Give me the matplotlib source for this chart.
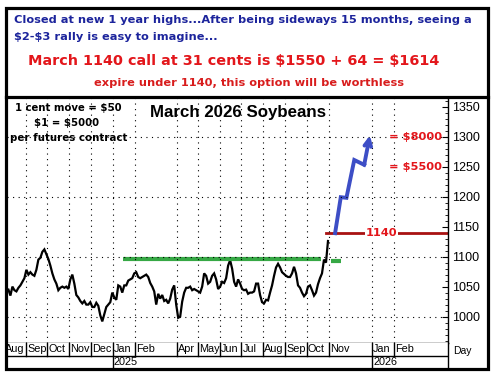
import numpy as np
import pandas as pd
import matplotlib
matplotlib.use("Agg")
import matplotlib.pyplot as plt
from matplotlib.patches import Rectangle
from matplotlib.lines import Line2D
from matplotlib.ticker import MultipleLocator

plt.rcParams["text.parse_math"] = False

# ---- data ----
price_start = "2024-08-07"
price_end = "2025-10-31"
price = [1045, 1035, 1050, 1044, 1042, 1048, 1052, 1058, 1064, 1078, 1070, 1074, 1070, 1068,
         1078, 1095, 1098, 1108, 1112, 1104, 1096, 1085, 1072, 1062, 1055, 1044, 1048, 1050,
         1048, 1050, 1046, 1062, 1070, 1055, 1036, 1032, 1026, 1022, 1026, 1020, 1020, 1024,
         1016, 1016, 1023, 1018, 1002, 992, 1004, 1016, 1020, 1024, 1040, 1032, 1028, 1052,
         1050, 1040, 1052, 1052, 1060, 1062, 1064, 1072, 1074, 1066, 1064, 1066, 1068, 1070,
         1066, 1056, 1050, 1042, 1020, 1038, 1030, 1036, 1026, 1028, 1022, 1030, 1045, 1052,
         1020, 998, 1000, 1025, 1040, 1048, 1048, 1050, 1044, 1046, 1044, 1042, 1040, 1050,
         1072, 1068, 1055, 1058, 1068, 1072, 1062, 1046, 1050, 1058, 1056, 1064, 1085, 1094,
         1080, 1058, 1050, 1062, 1055, 1046, 1044, 1045, 1038, 1040, 1040, 1042, 1055, 1055,
         1036, 1024, 1022, 1028, 1027, 1040, 1052, 1068, 1082, 1088, 1082, 1074, 1071, 1068,
         1066, 1066, 1072, 1083, 1072, 1052, 1048, 1040, 1034, 1038, 1050, 1052, 1044, 1035,
         1040, 1054, 1064, 1072, 1095, 1090, 1126]

resist_dates = ["2025-01-16", "2025-10-21"]
resist_level = 1096
resist2_dates = ["2025-11-04", "2025-11-19"]
resist2_level = 1093

strike = 1140
strike_start = "2025-10-28"
strike_label_date = "2026-01-15"

arrow_dates = ["2025-11-10", "2025-11-18", "2025-11-26", "2025-12-07", "2025-12-21", "2025-12-29"]
arrow_prices = [1139, 1199, 1198, 1261, 1253, 1302]

targets = [1300, 1250]
target_labels = ["= $8000", "= $5500"]

month_names = ["Aug", "Sep", "Oct", "Nov", "Dec", "Jan", "Feb", "Apr", "May", "Jun", "Jul",
               "Aug", "Sep", "Oct", "Nov", "Jan", "Feb"]
month_starts = ["2024-08-01", "2024-09-01", "2024-10-01", "2024-11-01", "2024-12-01",
                "2025-01-01", "2025-02-01", "2025-04-01", "2025-05-01", "2025-06-01",
                "2025-07-01", "2025-08-01", "2025-09-01", "2025-10-01", "2025-11-01",
                "2026-01-01", "2026-02-01"]
years = ["2025", "2026"]
year_starts = ["2025-01-01", "2026-01-01"]

W, H = 493, 374
xlim = (pd.Timestamp("2024-08-05"), pd.Timestamp("2026-04-18"))
ylim = (956, 1366)

navy = "#1c249c"
red = "#e3161b"
dred = "#a81212"
green = "#36a845"
blue = "#3d4ec6"
bold_font = ["DejaVu Sans"]
arial = ["Liberation Sans", "DejaVu Sans"]

fig = plt.figure(figsize=(W / 100, H / 100), dpi=100)


def fx(px):
    return px / W


def fy(py):
    return 1 - py / H


# main price axes
ax = fig.add_axes([fx(7), fy(343), fx(441), (343 - 97) / H])
dates = pd.date_range(price_start, price_end, periods=len(price))
ax.plot(dates, price, color="black", lw=1.6, solid_joinstyle="miter")

ax.plot(pd.to_datetime(resist_dates), [resist_level] * 2, color=green, lw=3, solid_capstyle="butt")
ax.plot(pd.to_datetime(resist2_dates), [resist2_level] * 2, color=green, lw=3, solid_capstyle="butt")

ax.plot([pd.Timestamp(strike_start), xlim[1]], [strike, strike], color=dred, lw=2)
ax.text(pd.Timestamp(strike_label_date), strike, str(strike), color=red, fontsize=8.2,
        fontweight="bold", family=bold_font, ha="center", va="center",
        bbox=dict(facecolor="white", edgecolor="none", pad=0.5))

adates = pd.to_datetime(arrow_dates)
ax.plot(adates[:-1], arrow_prices[:-1], color=blue, lw=2.8, solid_joinstyle="miter")
ax.annotate("", xy=(adates[-1], arrow_prices[-1]), xytext=(adates[-2], arrow_prices[-2]),
            arrowprops=dict(arrowstyle="->", color=blue, lw=2.8, mutation_scale=12,
                            shrinkA=0, shrinkB=0))

for lvl, lab in zip(targets, target_labels):
    ax.text(0.986, lvl, lab, transform=ax.get_yaxis_transform(), color=red, fontsize=8.2,
            fontweight="bold", family=bold_font, ha="right", va="center")

ax.set_xlim(xlim)
ax.set_ylim(ylim)

# grid: dotted at labelled months and every 100
for d in pd.to_datetime(month_starts):
    ax.axvline(d, color="black", lw=0.8, ls=(0, (1, 4)))
for lvl in range(1000, 1400, 100):
    ax.axhline(lvl, color="black", lw=0.8, ls=(0, (1, 4)))

ax.yaxis.tick_right()
ax.yaxis.set_major_locator(MultipleLocator(50))
ax.yaxis.set_minor_locator(MultipleLocator(10))
ax.tick_params(axis="y", which="major", direction="in", length=4, pad=3, labelsize=9)
ax.tick_params(axis="y", which="minor", direction="in", length=2)
for t in ax.get_yticklabels():
    t.set_family(arial)
ax.set_xticks([])
for s in ["left", "top"]:
    ax.spines[s].set_visible(False)
ax.spines["right"].set_linewidth(1)
ax.spines["bottom"].set_linewidth(1)

ax.text(0.14, 0.955, "1 cent move = $50", transform=ax.transAxes, fontsize=7.3,
        fontweight="bold", family=bold_font, ha="center", va="center")
ax.text(0.135, 0.895, "$1 = $5000", transform=ax.transAxes, fontsize=7.3,
        fontweight="bold", family=bold_font, ha="center", va="center")
ax.text(0.14, 0.835, "per futures contract", transform=ax.transAxes, fontsize=7.4,
        fontweight="bold", family=bold_font, ha="center", va="center")
ax.text(0.523, 0.935, "March 2026 Soybeans", transform=ax.transAxes, fontsize=12.2,
        fontweight="bold", family=arial, ha="center", va="center")

# date label rows
lab = fig.add_axes([fx(7), fy(367.5), fx(441), (367.5 - 343) / H])
lab.set_xlim(xlim)
lab.set_ylim(0, 24.5)
lab.set_xticks([])
lab.set_yticks([])
for s in ["left", "top", "bottom"]:
    lab.spines[s].set_visible(False)
lab.spines["right"].set_linewidth(1)
lab.axhline(11.5, color="black", lw=1)
for name, d in zip(month_names, pd.to_datetime(month_starts)):
    lab.plot([d, d], [11.5, 24.5], color="black", lw=1)
    lab.text(d + pd.Timedelta(days=1.5), 18, name, fontsize=7.8, family=arial,
             ha="left", va="center", clip_on=True)
for name, d in zip(years, pd.to_datetime(year_starts)):
    lab.plot([d, d], [0, 11.5], color="black", lw=1)
    lab.text(d + pd.Timedelta(days=1.5), 5.5, name, fontsize=7.8, family=arial,
             ha="left", va="center", clip_on=True)
fig.text(fx(462), fy(351), "Day", fontsize=7.5, family=arial, ha="center", va="center")

# header text
fig.text(fx(14), fy(20), "Closed at new 1 year highs...After being sideways 15 months, seeing a",
         color=navy, fontsize=8.2, fontweight="bold", family=bold_font, ha="left", va="center")
fig.text(fx(14), fy(37.5), "$2-$3 rally is easy to imagine...",
         color=navy, fontsize=8.2, fontweight="bold", family=bold_font, ha="left", va="center")
fig.text(fx(28), fy(61), "March 1140 call at 31 cents is $1550 + 64 = $1614",
         color=red, fontsize=10.4, fontweight="bold", family=bold_font, ha="left", va="center")
fig.text(fx(249), fy(83), "expire under 1140, this option will be worthless",
         color="#d81c1c", fontsize=8.2, fontweight="bold", family=bold_font, ha="center", va="center")

# frame
fig.add_artist(Rectangle((fx(5.5), fy(368.5)), fx(482.5), (368.5 - 8) / H, transform=fig.transFigure,
                         fill=False, edgecolor="black", lw=2.3))
fig.add_artist(Line2D([fx(5.5), fx(488)], [fy(96.5), fy(96.5)], transform=fig.transFigure,
                      color="black", lw=2.3))

fig.savefig("out.png", dpi=100)
